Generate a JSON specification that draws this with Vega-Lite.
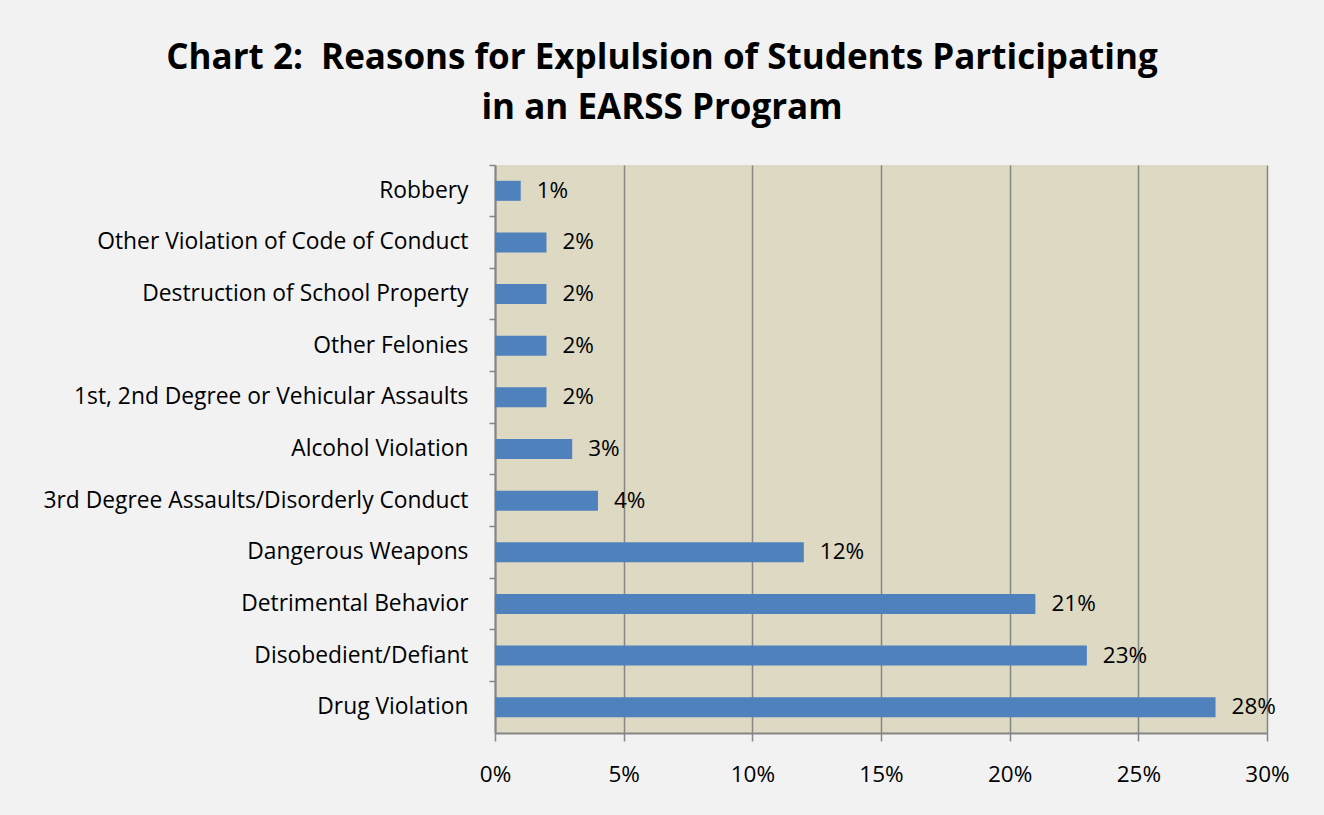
{
  "$schema": "https://vega.github.io/schema/vega-lite/v6.json",
  "width": 772,
  "height": 568,
  "autosize": "none",
  "padding": {"left": 495, "top": 165, "right": 57, "bottom": 82},
  "background": "#f2f2f2",
  "title": {
    "text": ["Chart 2:\u00a0 Reasons for Explulsion of Students Participating", "in an EARSS Program"],
    "font": "Open Sans",
    "fontSize": 35,
    "fontWeight": "bold",
    "color": "#000000",
    "anchor": "middle",
    "dx": -219,
    "offset": 38,
    "lineHeight": 50
  },
  "config": {
    "view": {"fill": "#ddd9c3", "stroke": null}
  },
  "data": {
    "values": [
      {"reason": "Robbery", "value": 0.01},
      {"reason": "Other Violation of Code of Conduct", "value": 0.02},
      {"reason": "Destruction of School Property\u2005", "value": 0.02},
      {"reason": "Other Felonies", "value": 0.02},
      {"reason": "1st, 2nd Degree or Vehicular Assaults", "value": 0.02},
      {"reason": "Alcohol Violation", "value": 0.03},
      {"reason": "3rd Degree Assaults/Disorderly Conduct", "value": 0.04},
      {"reason": "Dangerous Weapons", "value": 0.12},
      {"reason": "Detrimental Behavior", "value": 0.21},
      {"reason": "Disobedient/Defiant\u2005", "value": 0.23},
      {"reason": "Drug Violation", "value": 0.28}
    ]
  },
  "encoding": {
    "y": {
      "field": "reason",
      "type": "nominal",
      "sort": null,
      "scale": {"paddingInner": 0, "paddingOuter": 0},
      "axis": {
        "title": null,
        "labelFont": "Open Sans",
        "labelFontSize": 22.8,
        "labelColor": "#000000",
        "labelLimit": 0,
        "domainColor": "#868686",
        "domainWidth": 2,
        "tickColor": "#868686",
        "tickWidth": 1.5,
        "tickSize": 6,
        "bandPosition": 0,
        "labelPadding": 21,
        "grid": false
      }
    },
    "x": {
      "field": "value",
      "type": "quantitative",
      "scale": {"domain": [0, 0.3]},
      "axis": {
        "title": null,
        "format": ".0%",
        "values": [0, 0.05, 0.1, 0.15, 0.2, 0.25, 0.3],
        "grid": true,
        "gridColor": "#868686",
        "gridWidth": 1.5,
        "domainColor": "#868686",
        "domainWidth": 2,
        "tickColor": "#868686",
        "tickWidth": 1.5,
        "tickSize": 8,
        "labelPadding": 22,
        "labelFlush": false,
        "labelFont": "Open Sans",
        "labelFontSize": 22.5,
        "labelColor": "#000000"
      }
    }
  },
  "layer": [
    {"mark": {"type": "bar", "color": "#4f81bd", "size": 20}},
    {
      "mark": {"type": "text", "align": "left", "baseline": "middle", "dx": 16, "font": "Open Sans", "fontSize": 22.5, "color": "#000000"},
      "encoding": {"text": {"field": "value", "type": "quantitative", "format": ".0%"}}
    }
  ]
}
